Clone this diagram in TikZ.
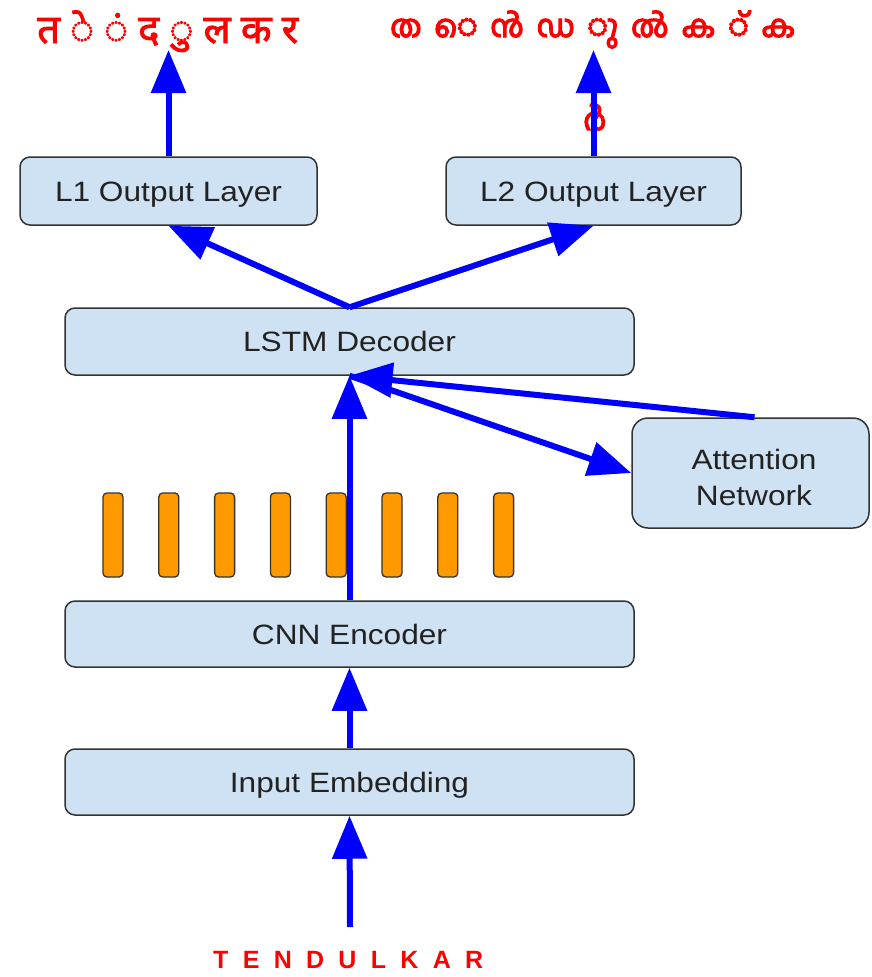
\documentclass[tikz,border=0pt]{standalone}
\usepackage{fontspec}
\usepackage{graphicx}
\setmainfont{Liberation Sans}
\newfontfamily\devfont[Script=Devanagari, FakeBold=2]{Noto Sans}
\newfontfamily\malfont[Script=Malayalam, FakeBold=4]{Hind Kochi}
\usetikzlibrary{arrows.meta}
\definecolor{boxblue}{HTML}{CFE2F3}
\definecolor{boxline}{HTML}{333333}
\definecolor{flowblue}{HTML}{0000FF}
\definecolor{barorange}{HTML}{FF9900}
\definecolor{labelred}{HTML}{FF0000}
\definecolor{boxtext}{HTML}{222222}
\newcommand\widetxt[1]{\scalebox{1.13}[1]{#1}}
\tikzset{
  layerbox/.style={draw=boxline, line width=1.5pt, fill=boxblue, rounded corners=10pt,
    inner sep=0pt, text=boxtext, font=\fontsize{28}{36}\selectfont, align=center},
  onelinetext/.style={text height=20pt, text depth=0pt},
  featbar/.style={draw=boxline, line width=1.3pt, fill=barorange, rounded corners=4pt,
    minimum width=20pt, minimum height=84pt, inner sep=0pt},
  flow/.style={draw=flowblue, line width=6pt,
    -{Triangle[length=43pt,width=34pt]}},
  redlabel/.style={text=labelred, inner sep=0pt, anchor=base west}
}
\begin{document}
\begin{tikzpicture}[x=1pt,y=-1pt]
\useasboundingbox (0,0) rectangle (871,977);

% layer boxes
\node[layerbox, onelinetext, minimum width=297pt, minimum height=68pt] (l1) at (168.5,191) {\widetxt{L1 Output Layer}};
\node[layerbox, onelinetext, minimum width=295pt, minimum height=68pt] (l2) at (593.5,191) {\widetxt{L2 Output Layer}};
\node[layerbox, onelinetext, minimum width=569pt, minimum height=67pt] (lstm) at (349.5,341.5) {\widetxt{LSTM Decoder}};
\node[layerbox, minimum width=237pt, minimum height=110pt, rounded corners=16pt] (att) at (750.5,473) {};
\node[text=boxtext, font=\fontsize{28}{36}\selectfont, align=center, inner sep=0pt] (atttext) at (754,477)
  {\widetxt{Attention}\\\widetxt{Network}};
\node[layerbox, onelinetext, minimum width=569pt, minimum height=66pt] (cnn) at (349.5,634) {\widetxt{CNN Encoder}};
\node[layerbox, onelinetext, minimum width=569pt, minimum height=66pt] (emb) at (349.5,782) {\widetxt{Input Embedding}};

% encoder feature columns
\foreach \i in {0,...,7}
  \node[featbar] (bar\i) at ({113+55.8*\i},535) {};

% input word and output transliterations
\node[redlabel, font=\fontsize{25}{30}\selectfont\bfseries] (word) at (213,968)
  {\makebox[270pt][s]{T\hfil E\hfil N\hfil D\hfil U\hfil L\hfil K\hfil A\hfil R}};
\node[redlabel, font=\devfont\fontsize{40}{46}\selectfont] (hindi) at (37,43)
  {\makebox[261pt][s]{त\hfil ◌े\hfil ◌ं\hfil द\hfil ◌ु\hfil ल\hfil क\hfil र}};
\node[redlabel, font=\malfont\fontsize{31}{36}\selectfont] (mal) at (390,37)
  {\makebox[405pt][s]{ത\hfil ◌െ\hfil ൻ\hfil ഡ\hfil ◌ു\hfil ൽ\hfil ക\hfil ◌്\hfil ക}};
\node[redlabel, font=\malfont\fontsize{31}{36}\selectfont] (malrr) at (583,130) {ർ};

% free ends of the open connectors
\coordinate (in) at (350,927);
\coordinate (out1) at (168.5,50);
\coordinate (out2) at (593.5,50);

% data flow
\draw[flow] (in) -- (emb.south);
\draw[flow] (emb.north) -- (cnn.south);
\draw[flow] (cnn.north) -- (lstm.south);
\draw[flow] ([xshift=4pt]att.north) -- (lstm.south);
\draw[flow] (lstm.south) -- (att.west);
\draw[flow] (lstm.north) -- (l1.south);
\draw[flow] (lstm.north) -- (l2.south);
\draw[flow] (l1.north) -- (out1);
\draw[flow] (l2.north) -- (out2);
\end{tikzpicture}
\end{document}
